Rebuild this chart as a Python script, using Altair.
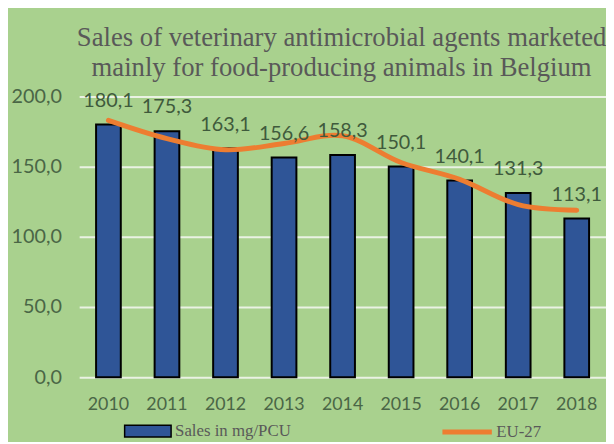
import altair as alt
import pandas as pd

years = ["2010", "2011", "2012", "2013", "2014", "2015", "2016", "2017", "2018"]
sales = [180.1, 175.3, 163.1, 156.6, 158.3, 150.1, 140.1, 131.3, 113.1]
eu27 = [183.0, 170.0, 162.0, 166.5, 172.0, 153.0, 141.0, 123.0, 119.0]
title_lines = ["Sales of veterinary antimicrobial agents marketed",
               "mainly for food-producing animals in Belgium"]
bar_series = "Sales in mg/PCU"
line_series = "EU-27"

df = pd.DataFrame({"year": years, "sales": sales, "eu27": eu27,
                   "s1": bar_series, "s2": line_series})

BG = "#A9D18E"
xenc = alt.X("year:O", title=None,
             scale=alt.Scale(paddingInner=0, paddingOuter=0),
             axis=alt.Axis(labelAngle=0, labelFont="Lato", labelFontSize=18,
                           labelColor="#4A6646", ticks=False, tickSize=0,
                           domain=False, labelPadding=19, grid=False))
yscale = alt.Scale(domain=[0, 200], nice=False)

base = alt.Chart(df)

bars = base.mark_bar(width=25, stroke="black", strokeWidth=2).encode(
    x=xenc,
    y=alt.Y("sales:Q", title=None, scale=yscale,
            axis=alt.Axis(values=[0, 50, 100, 150, 200],
                          labelExpr="replace(format(datum.value, '.1f'), '.', ',')",
                          labelFont="Lato", labelFontSize=20, labelColor="#4A6646",
                          ticks=False, tickSize=0, domain=False, labelPadding=18,
                          grid=True, gridColor="#EAF2E3", gridWidth=2)),
    fill=alt.Fill("s1:N", title=None,
                  scale=alt.Scale(domain=[bar_series], range=["#2F5597"]),
                  legend=alt.Legend(orient="none", legendX=45, legendY=314,
                                    symbolType="M-1,-0.25H1V0.25H-1Z", symbolSize=2209,
                                    symbolStrokeColor="black", symbolStrokeWidth=1.5,
                                    labelFont="Liberation Serif", labelFontSize=17,
                                    labelColor="#595959", padding=0, labelOffset=3)),
)

labels = base.mark_text(baseline="bottom", dy=-14, font="Lato", fontSize=20,
                        color="#3F5A3C").encode(
    x=alt.X("year:O"),
    y=alt.Y("sales:Q", scale=yscale),
    text=alt.Text("lbl:N"),
).transform_calculate(lbl="replace(format(datum.sales, '.1f'), '.', ',')")

line = base.mark_line(strokeWidth=5, interpolate="catmull-rom", strokeCap="round").encode(
    x=alt.X("year:O"),
    y=alt.Y("eu27:Q", scale=yscale),
    stroke=alt.Stroke("s2:N", title=None,
                      scale=alt.Scale(domain=[line_series], range=["#ED7D31"]),
                      legend=alt.Legend(orient="none", legendX=365, legendY=312,
                                        symbolType="stroke", symbolSize=2500,
                                        symbolStrokeWidth=5,
                                        labelFont="Liberation Serif", labelFontSize=17,
                                        labelColor="#595959", padding=0, labelOffset=2)),
)

chart = alt.layer(bars, line, labels).properties(
    width=533, height=284,
    background=BG,
    padding={"left": 72, "top": 87, "right": 0, "bottom": 63},
    autosize=alt.AutoSizeParams(type="none"),
    title=alt.TitleParams(text=title_lines, font="Liberation Serif", fontSize=27,
                          fontWeight="normal", color="#595959", lineHeight=30,
                          anchor="middle", offset=5, dx=-1),
).configure_view(stroke=None).resolve_legend(fill="independent", stroke="independent")

chart.save("out.html", embed_options={"renderer": "svg", "actions": False})
